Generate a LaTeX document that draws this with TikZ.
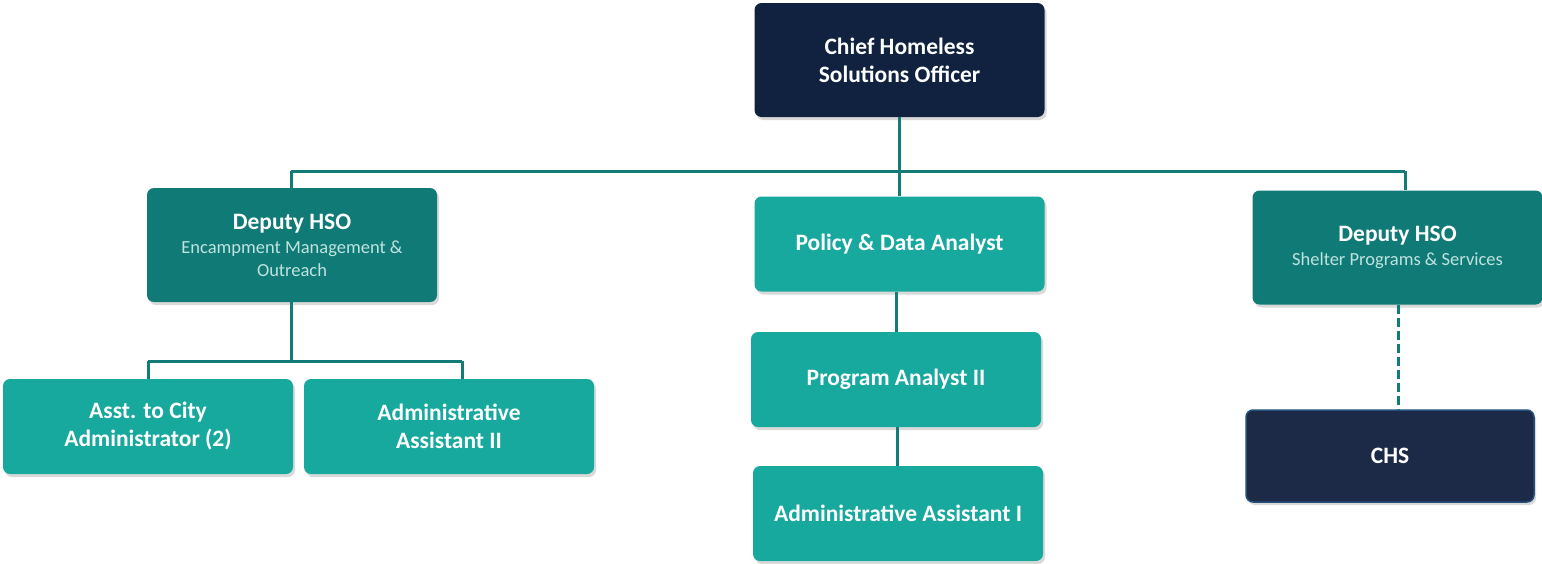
\documentclass[tikz,border=0pt]{standalone}
\usepackage{fontspec}
\setmainfont{Carlito}
\usetikzlibrary{shadows}
\definecolor{navy}{HTML}{10223F}
\definecolor{chsnavy}{HTML}{1C2A48}
\definecolor{chsborder}{HTML}{24507A}
\definecolor{tealdark}{HTML}{107A76}
\definecolor{teallight}{HTML}{17A89E}
\definecolor{linecol}{HTML}{137C79}
\definecolor{subtext}{HTML}{BFE3E0}
\newcommand{\subt}[1]{{\fontsize{18.5}{23}\selectfont\mdseries\color{subtext}#1}}
\tikzset{
  box/.style={rectangle, rounded corners=7pt, minimum width=290pt, minimum height=95pt,
    text=white, align=center, font=\fontsize{23.5}{28}\selectfont\bfseries,
    drop shadow={shadow xshift=2pt, shadow yshift=-3pt, opacity=0.15, fill=black}},
  topbox/.style={box, fill=navy, minimum height=114pt},
  depbox/.style={box, fill=tealdark, minimum height=114pt},
  litebox/.style={box, fill=teallight},
  chsbox/.style={box, fill=chsnavy, draw=chsborder, line width=1.5pt, minimum width=288pt, minimum height=92pt},
  conn/.style={draw=linecol, line width=3pt},
  dconn/.style={conn, dash pattern=on 9pt off 4pt}
}
\begin{document}
\begin{tikzpicture}[x=1pt,y=-1pt]
\useasboundingbox (0,0) rectangle (1542,563);
% nodes
\node[topbox] (chief) at (899.5,60) {Chief Homeless\\Solutions Officer};
\node[depbox] (depL) at (292,245) {Deputy HSO\\[-4pt]\subt{Encampment Management \&}\\[-5pt]\subt{Outreach}};
\node[litebox] (policy) at (899.5,244) {Policy \& Data Analyst};
\node[depbox] (depR) at (1397.5,247.5) {Deputy HSO\\[-4pt]\subt{Shelter Programs \& Services}};
\node[litebox] (asst) at (148,426.5) {Asst. to City\\Administrator (2)};
\node[litebox] (adm2) at (449,426.5) {Administrative\\Assistant II};
\node[litebox] (prog) at (896,379.5) {Program Analyst II};
\node[litebox] (adm1) at (898,513.5) {Administrative Assistant I};
\node[chsbox] (chs) at (1390,456) {CHS};
% junction coordinates
\coordinate (bus) at (899,171);
\coordinate (busL) at (291,171);
\coordinate (busR) at (1405,171);
\coordinate (lbus) at (291,361);
\coordinate (lbusA) at (148,361);
\coordinate (lbusB) at (462,361);
% connectors
\draw[conn] (chief.south -| bus) -- (policy.north -| bus);
\draw[conn] (busL) -- (busR);
\draw[conn] (busL) -- (depL.north -| busL);
\draw[conn] (busR) -- (depR.north -| busR);
\draw[conn] (depL.south -| lbus) -- (lbus);
\draw[conn] (lbusA) -- (lbusB);
\draw[conn] (lbusA) -- (asst.north -| lbusA);
\draw[conn] (lbusB) -- (adm2.north -| lbusB);
\draw[conn] (policy.south -| prog.north) -- (prog.north);
\draw[conn] (prog.south -| 897,0) -- (adm1.north -| 897,0);
\draw[dconn] (depR.south -| 1398,0) -- (chs.north -| 1398,0);
\end{tikzpicture}
\end{document}
